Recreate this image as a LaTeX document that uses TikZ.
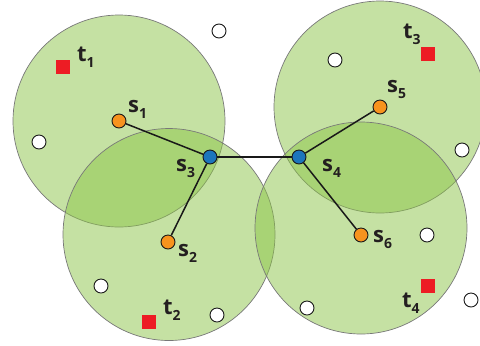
\documentclass[tikz,border=0pt]{standalone}
\usepackage{fontspec}
\setmainfont{Open Sans}
\definecolor{areagreen}{RGB}{140,196,72}
\definecolor{rimgray}{RGB}{120,120,120}
\definecolor{sorange}{RGB}{247,147,30}
\definecolor{sblue}{RGB}{28,117,188}
\definecolor{tred}{RGB}{237,28,36}
\definecolor{txt}{RGB}{35,31,32}
\newcommand{\lbl}[2]{#1\raisebox{-6bp}{\fontsize{14}{14}\selectfont #2}}
\begin{document}
\begin{tikzpicture}[x=1bp,y=-1bp,
  area/.style={circle, draw=rimgray, line width=0.7bp, fill=areagreen, fill opacity=0.5, draw opacity=1, minimum size=212bp, inner sep=0},
  sensor/.style={circle, draw=black!90, line width=0.9bp, minimum size=14bp, inner sep=0},
  relay/.style={sensor, fill=sblue},
  source/.style={sensor, fill=sorange},
  idle/.style={sensor, fill=white},
  target/.style={rectangle, fill=tred, minimum size=14bp, inner sep=0},
  tag/.style={anchor=base west, inner sep=0, text=txt, font=\bfseries\fontsize{22}{22}\selectfont},
  link/.style={line width=1.5bp, draw=black!90}]
\useasboundingbox (0,0) rectangle (480,345);
% coverage areas
\node[area] (a1) at (119,121) {};
\node[area] (a2) at (169,234.5) {};
\node[area] (a3) at (380,107) {};
\node[area] (a4) at (361,228) {};
% sensors
\node[source] (s1) at (119,121) {};
\node[source] (s2) at (168,242) {};
\node[relay] (s3) at (210,157) {};
\node[relay] (s4) at (299,157) {};
\node[source] (s5) at (380,107) {};
\node[source] (s6) at (361,235) {};
\draw[link] (s1) -- (s3);
\draw[link] (s2) -- (s3);
\draw[link] (s3) -- (s4);
\draw[link] (s4) -- (s5);
\draw[link] (s4) -- (s6);
% idle nodes
\node[idle] (w1) at (219,31) {};
\node[idle] (w2) at (39,142) {};
\node[idle] (w3) at (335,60) {};
\node[idle] (w4) at (462,150) {};
\node[idle] (w5) at (101,286) {};
\node[idle] (w6) at (217,315) {};
\node[idle] (w7) at (427,235) {};
\node[idle] (w8) at (307,308) {};
\node[idle] (w9) at (471,300) {};
% targets
\node[target] (t1) at (63,67) {};
\node[target] (t2) at (149,322) {};
\node[target] (t3) at (428,54) {};
\node[target] (t4) at (428,286) {};
% labels
\node[tag] (lt1) at (77,61) {\lbl{t}{1}};
\node[tag] (lt2) at (163,314) {\lbl{t}{2}};
\node[tag] (lt3) at (403,38) {\lbl{t}{3}};
\node[tag] (lt4) at (402,307) {\lbl{t}{4}};
\node[tag] (ls1) at (128,112) {\lbl{s}{1}};
\node[tag] (ls2) at (178,256) {\lbl{s}{2}};
\node[tag] (ls3) at (176,171) {\lbl{s}{3}};
\node[tag] (ls4) at (322,171) {\lbl{s}{4}};
\node[tag] (ls5) at (387,92) {\lbl{s}{5}};
\node[tag] (ls6) at (373,242) {\lbl{s}{6}};
\end{tikzpicture}
\end{document}
